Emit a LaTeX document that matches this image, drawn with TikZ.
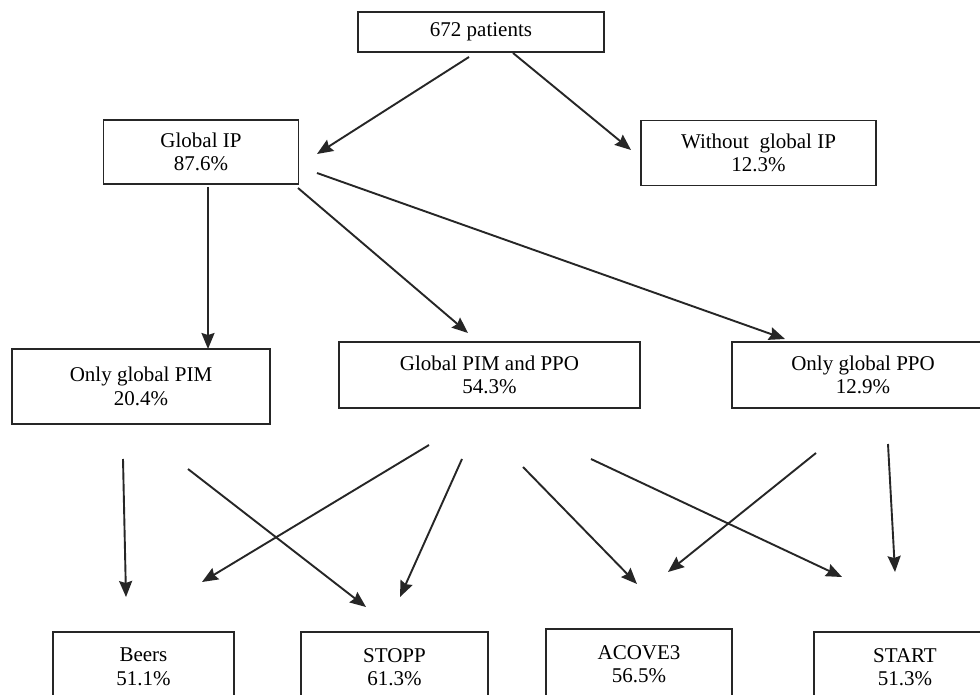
\documentclass[tikz,border=0pt]{standalone}
\usepackage{fontspec}
\setmainfont{Liberation Serif}
\usetikzlibrary{arrows.meta}
\begin{document}
\begin{tikzpicture}[x=1pt,y=-1pt,
  box/.style={draw=black!85, line width=1.3pt, rectangle, inner sep=0pt, align=center,
    font=\fontsize{21}{23.5}\selectfont},
  arr/.style={line width=1.9pt, draw=black!85, -{Stealth[length=16pt,width=13pt,inset=2pt]}}]
\useasboundingbox (0,0) rectangle (980,695);
\clip (0,0) rectangle (980,695);
\fill[white] (0,0) rectangle (980,695);
% boxes
\node[box, minimum width=246pt, minimum height=40pt] (pat) at (481,32) {672 patients};
\node[box, minimum width=195pt, minimum height=64pt] (gip) at (201,152) {Global IP\\87.6\%};
\node[box, minimum width=235pt, minimum height=65pt] (wgip) at (758.5,153) {Without\ \ global IP\\12.3\%};
\node[box, minimum width=258pt, minimum height=75pt] (opim) at (141,386.5) {Only global PIM\\20.4\%};
\node[box, minimum width=301pt, minimum height=66pt] (pimppo) at (489.5,375) {Global PIM and PPO\\54.3\%};
\node[box, minimum width=262pt, minimum height=66pt] (oppo) at (863,375) {Only global PPO\\12.9\%};
\node[box, minimum width=181pt, minimum height=70pt] (beers) at (143.5,667) {Beers\\51.1\%};
\node[box, minimum width=187pt, minimum height=70pt] (stopp) at (394.5,667) {STOPP\\61.3\%};
\node[box, minimum width=186pt, minimum height=70pt] (acove) at (639,664) {ACOVE3\\56.5\%};
\node[box, minimum width=182pt, minimum height=70pt] (start) at (905,667) {START\\51.3\%};
% free arrow ends
\coordinate (a1s) at (469,57);  \coordinate (a1e) at (317,154);
\coordinate (a2s) at (513,53);  \coordinate (a2e) at (631,150);
\coordinate (a3s) at (208,187); \coordinate (a3e) at (208,349);
\coordinate (a4s) at (298,188); \coordinate (a4e) at (468,333);
\coordinate (a5s) at (317,173); \coordinate (a5e) at (785,339);
\coordinate (a6s) at (123,459); \coordinate (a6e) at (126,597);
\coordinate (a7s) at (188,469); \coordinate (a7e) at (366,607);
\coordinate (a8s) at (429,445); \coordinate (a8e) at (202,582);
\coordinate (a9s) at (462,459); \coordinate (a9e) at (400,597);
\coordinate (a10s) at (523,467); \coordinate (a10e) at (637,584);
\coordinate (a11s) at (591,459); \coordinate (a11e) at (842,577);
\coordinate (a12s) at (816,453); \coordinate (a12e) at (668,572);
\coordinate (a13s) at (888,444); \coordinate (a13e) at (895,572);
% arrows
\draw[arr] (a1s) -- (a1e);
\draw[arr] (a2s) -- (a2e);
\draw[arr] (a3s) -- (a3e);
\draw[arr] (a4s) -- (a4e);
\draw[arr] (a5s) -- (a5e);
\draw[arr] (a6s) -- (a6e);
\draw[arr] (a7s) -- (a7e);
\draw[arr] (a8s) -- (a8e);
\draw[arr] (a9s) -- (a9e);
\draw[arr] (a10s) -- (a10e);
\draw[arr] (a11s) -- (a11e);
\draw[arr] (a12s) -- (a12e);
\draw[arr] (a13s) -- (a13e);
\end{tikzpicture}
\end{document}
